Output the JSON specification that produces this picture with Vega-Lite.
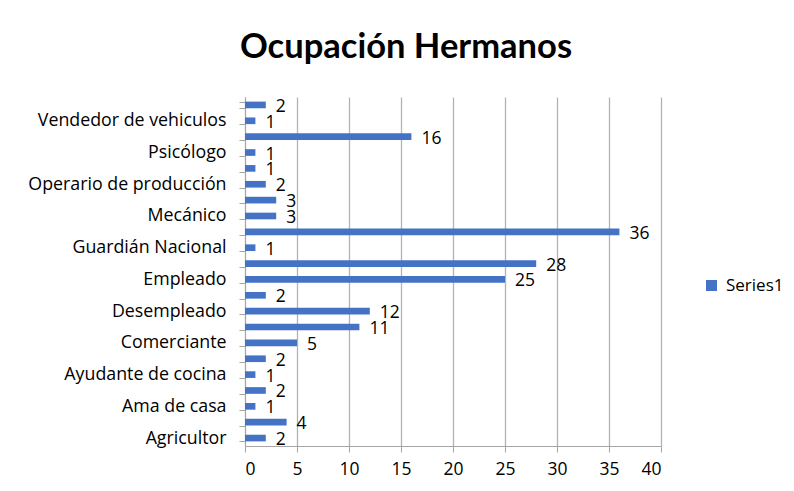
{
  "$schema": "https://vega.github.io/schema/vega-lite/v6.json",
  "width": 416,
  "height": 349,
  "autosize": {"type": "none"},
  "padding": {"left": 245, "top": 97, "right": 133, "bottom": 45},
  "background": "white",
  "title": {
    "text": "Ocupación Hermanos",
    "font": "Lato",
    "fontSize": 34.5,
    "fontWeight": "bold",
    "color": "#000000",
    "anchor": "middle",
    "dx": -47,
    "baseline": "alphabetic",
    "offset": -4
  },
  "data": {
    "values": [
      {"ocupacion": "Vigilante", "cantidad": 2, "serie": "Series1"},
      {"ocupacion": "Vendedor de vehiculos", "cantidad": 1, "serie": "Series1"},
      {"ocupacion": "Técnico", "cantidad": 16, "serie": "Series1"},
      {"ocupacion": "Psicólogo", "cantidad": 1, "serie": "Series1"},
      {"ocupacion": "Policía", "cantidad": 1, "serie": "Series1"},
      {"ocupacion": "Operario de producción", "cantidad": 2, "serie": "Series1"},
      {"ocupacion": "Militar", "cantidad": 3, "serie": "Series1"},
      {"ocupacion": "Mecánico", "cantidad": 3, "serie": "Series1"},
      {"ocupacion": "Jornalero", "cantidad": 36, "serie": "Series1"},
      {"ocupacion": "Guardián Nacional", "cantidad": 1, "serie": "Series1"},
      {"ocupacion": "Estudiante", "cantidad": 28, "serie": "Series1"},
      {"ocupacion": "Empleado", "cantidad": 25, "serie": "Series1"},
      {"ocupacion": "Electricista", "cantidad": 2, "serie": "Series1"},
      {"ocupacion": "Desempleado", "cantidad": 12, "serie": "Series1"},
      {"ocupacion": "Costurera", "cantidad": 11, "serie": "Series1"},
      {"ocupacion": "Comerciante", "cantidad": 5, "serie": "Series1"},
      {"ocupacion": "Chofer", "cantidad": 2, "serie": "Series1"},
      {"ocupacion": "Ayudante de cocina", "cantidad": 1, "serie": "Series1"},
      {"ocupacion": "Artesano", "cantidad": 2, "serie": "Series1"},
      {"ocupacion": "Ama de casa", "cantidad": 1, "serie": "Series1"},
      {"ocupacion": "Albañil", "cantidad": 4, "serie": "Series1"},
      {"ocupacion": "Agricultor", "cantidad": 2, "serie": "Series1"}
    ]
  },
  "encoding": {
    "y": {
      "field": "ocupacion",
      "type": "nominal",
      "sort": null,
      "scale": {"paddingInner": 0.58, "paddingOuter": 0.29},
      "axis": {
        "title": null,
        "labelExpr": "indexof(['Vendedor de vehiculos','Psicólogo','Operario de producción','Mecánico','Guardián Nacional','Empleado','Desempleado','Comerciante','Ayudante de cocina','Ama de casa','Agricultor'], datum.value) >= 0 ? datum.value : ''",
        "labelFont": "Open Sans",
        "labelFontSize": 17.8,
        "labelLimit": 300,
        "labelColor": "#000000",
        "labelPadding": 13,
        "labelOverlap": false,
        "tickBand": "extent",
        "tickColor": "#a6a6a6",
        "tickSize": 6,
        "domainColor": "#a6a6a6",
        "grid": false
      }
    },
    "x": {
      "field": "cantidad",
      "type": "quantitative",
      "scale": {"domain": [0, 40], "nice": false},
      "axis": {
        "title": null,
        "values": [0, 5, 10, 15, 20, 25, 30, 35, 40],
        "labelFont": "Open Sans",
        "labelFontSize": 17.5,
        "labelColor": "#000000",
        "labelPadding": 8,
        "tickColor": "#a6a6a6",
        "tickSize": 6,
        "domainColor": "#a6a6a6",
        "grid": true,
        "gridColor": "#b3b3b3",
        "gridWidth": 1.3
      }
    }
  },
  "layer": [
    {
      "mark": {"type": "bar", "color": "#4472C4"},
      "encoding": {
        "color": {
          "field": "serie",
          "type": "nominal",
          "scale": {"range": ["#4472C4"]},
          "legend": {
            "title": null,
            "orient": "none",
            "legendX": 458,
            "legendY": 180,
            "symbolType": "square",
            "symbolSize": 121,
            "symbolStrokeWidth": 0,
            "labelFont": "Open Sans",
            "labelFontSize": 17,
            "labelColor": "#000000",
            "labelOffset": 6
          }
        }
      }
    },
    {
      "mark": {"type": "text", "align": "left", "dx": 10, "dy": 2, "font": "Open Sans", "fontSize": 17.5, "color": "#000000"},
      "encoding": {"text": {"field": "cantidad", "type": "quantitative"}}
    }
  ],
  "config": {"view": {"stroke": null}}
}
